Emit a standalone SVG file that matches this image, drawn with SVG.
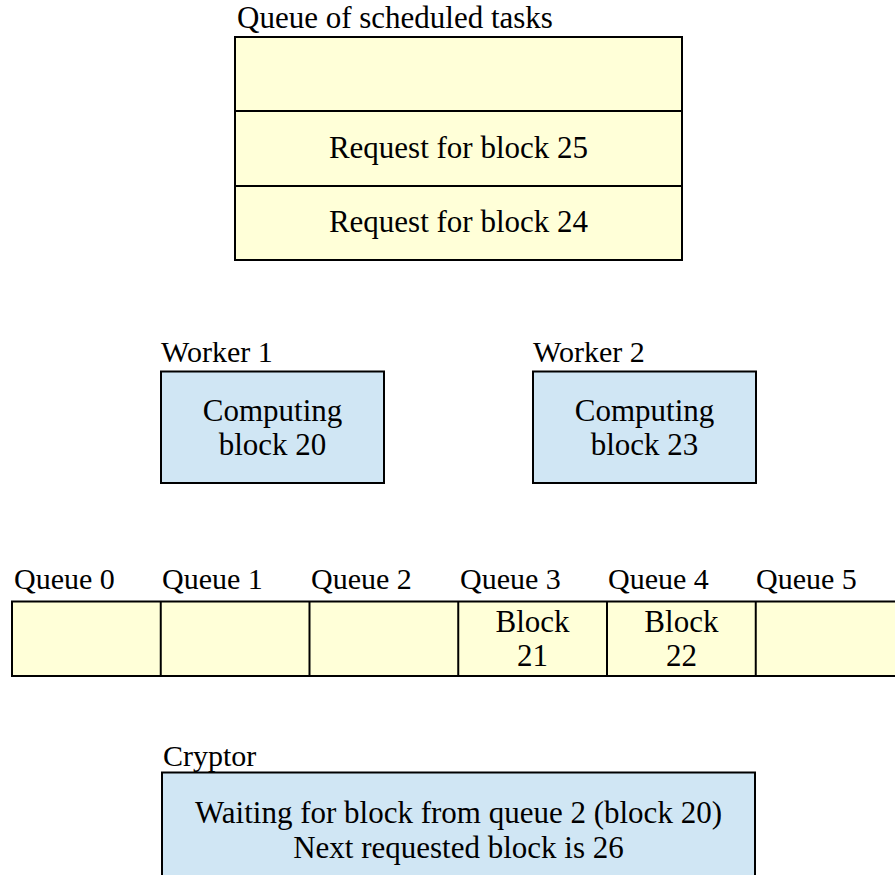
<svg xmlns="http://www.w3.org/2000/svg" width="895" height="875" viewBox="0 0 895 875">
  <style>
    text { font-family: "Liberation Serif", "Times New Roman", serif; fill: #000; }
    .lbl { font-size: 30px; }
    .txt { font-size: 31px; text-anchor: middle; }
    .yellow { fill: #FFFFD8; stroke: #000; stroke-width: 2; }
    .blue { fill: #D0E6F4; stroke: #000; stroke-width: 2; }
    .sep { stroke: #000; stroke-width: 2; }
  </style>
  <rect width="895" height="875" fill="#FFFFFF"/>

  <!-- Scheduled task queue -->
  <g id="task-queue">
    <text class="lbl" x="237" y="28" style="font-size:31px">Queue of scheduled tasks</text>
    <rect class="yellow" x="235" y="37" width="447" height="223"/>
    <line class="sep" x1="235" y1="111" x2="682" y2="111"/>
    <line class="sep" x1="235" y1="186" x2="682" y2="186"/>
    <text class="txt" x="458.5" y="158">Request for block 25</text>
    <text class="txt" x="458.5" y="232">Request for block 24</text>
  </g>

  <!-- Workers -->
  <g id="worker-1">
    <text class="lbl" x="161" y="362">Worker 1</text>
    <rect class="blue" x="161" y="371.5" width="223" height="111.5"/>
    <text class="txt" x="272.5" y="421">Computing</text>
    <text class="txt" x="272.5" y="455">block 20</text>
  </g>
  <g id="worker-2">
    <text class="lbl" x="533" y="362">Worker 2</text>
    <rect class="blue" x="533" y="371.5" width="223" height="111.5"/>
    <text class="txt" x="644.5" y="421">Computing</text>
    <text class="txt" x="644.5" y="455">block 23</text>
  </g>

  <!-- Per-worker output queues -->
  <g id="output-queues">
    <rect class="yellow" x="12" y="601.5" width="900" height="74.5"/>
    <line class="sep" x1="160.75" y1="601.5" x2="160.75" y2="676"/>
    <line class="sep" x1="309.5" y1="601.5" x2="309.5" y2="676"/>
    <line class="sep" x1="458.25" y1="601.5" x2="458.25" y2="676"/>
    <line class="sep" x1="607" y1="601.5" x2="607" y2="676"/>
    <line class="sep" x1="755.75" y1="601.5" x2="755.75" y2="676"/>
    <text class="lbl" x="14" y="589">Queue 0</text>
    <text class="lbl" x="162" y="589">Queue 1</text>
    <text class="lbl" x="311" y="589">Queue 2</text>
    <text class="lbl" x="460" y="589">Queue 3</text>
    <text class="lbl" x="608" y="589">Queue 4</text>
    <text class="lbl" x="756" y="589">Queue 5</text>
    <text class="txt" x="532.6" y="632">Block</text>
    <text class="txt" x="532.6" y="666">21</text>
    <text class="txt" x="681.4" y="632">Block</text>
    <text class="txt" x="681.4" y="666">22</text>
  </g>

  <!-- Cryptor -->
  <g id="cryptor">
    <text class="lbl" x="163" y="766">Cryptor</text>
    <rect class="blue" x="162" y="772.5" width="593" height="140"/>
    <text class="txt" x="458.5" y="823">Waiting for block from queue 2 (block 20)</text>
    <text class="txt" x="458.5" y="858">Next requested block is 26</text>
  </g>

  <g id="connectors"/>
</svg>
